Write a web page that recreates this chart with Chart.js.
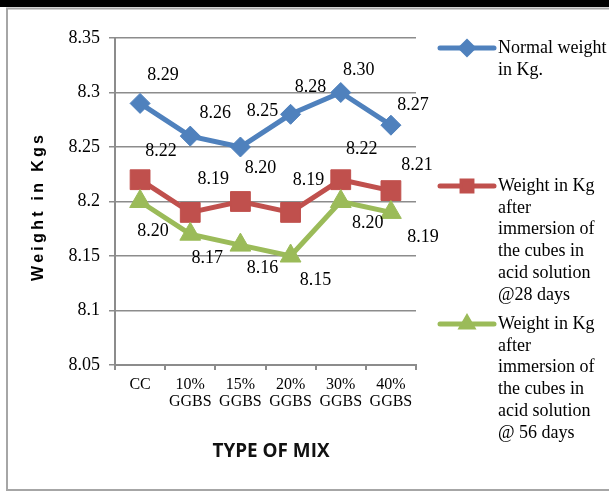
<!DOCTYPE html>
<html>
<head>
<meta charset="utf-8">
<script src="https://cdn.jsdelivr.net/npm/chart.js@4.4.1/dist/chart.umd.min.js"></script>
<style>
  html, body { margin: 0; padding: 0; background: #fff; }
  #wrap { position: relative; width: 609px; height: 493px; }
</style>
</head>
<body>
<div id="wrap"><canvas id="chart" width="609" height="493"></canvas></div>
<script>
// Mix types along the x axis (two-line labels)
const categories = [['CC'], ['10%', 'GGBS'], ['15%', 'GGBS'], ['20%', 'GGBS'], ['30%', 'GGBS'], ['40%', 'GGBS']];

// Cube weights in kg
const normalWeight = [8.29, 8.26, 8.25, 8.28, 8.30, 8.27];
const weight28Days = [8.22, 8.19, 8.20, 8.19, 8.22, 8.21];
const weight56Days = [8.20, 8.17, 8.16, 8.15, 8.20, 8.19];

const seriesNames = [
  'Normal weight in Kg.',
  'Weight in Kg after immersion of the cubes in acid solution @28 days',
  'Weight in Kg after immersion of the cubes in acid solution @ 56 days'
];

// Y axis range and tick step
const yMin = 8.05, yMax = 8.35, yStep = 0.05;

// Value label placement relative to each point (pixels)
const labelShiftNormal = [[23, -28], [25, -23], [22, -36], [20, -27], [18, -22], [22, -20]];
const labelShift28 = [[21, -28], [23, -33], [20, -33], [18, -32], [21, -30], [26, -25]];
const labelShift56 = [[13, 30], [17, 24], [22, 23], [25, 24], [27, 22], [32, 25]];

const BLUE = '#4F81BD', RED = '#C0504D', GREEN = '#9BBB59';
const GRID = '#8C8C8C';
const SERIF = '"Liberation Serif", "Times New Roman", serif';

// Page frame: heavy rule on top, thin grey box around the chart
const framePlugin = {
  id: 'frame',
  beforeDraw(chart) {
    const ctx = chart.ctx;
    ctx.save();
    ctx.fillStyle = '#fff';
    ctx.fillRect(0, 0, chart.width, chart.height);
    ctx.fillStyle = '#000';
    ctx.fillRect(0, 0, chart.width, 7);
    ctx.strokeStyle = '#A6A6A6';
    ctx.lineWidth = 2;
    ctx.beginPath();
    ctx.moveTo(chart.width + 2, 8.5);
    ctx.lineTo(7, 8.5);
    ctx.lineTo(7, 490);
    ctx.lineTo(chart.width + 2, 490);
    ctx.stroke();
    ctx.restore();
  }
};

// Axis titles
const titlesPlugin = {
  id: 'axisTitles',
  afterDraw(chart) {
    const ctx = chart.ctx;
    ctx.save();
    // y title, spaced-out bold sans
    const spacing = 3.3;
    ctx.font = 'bold 16px "Liberation Sans", Arial, sans-serif';
    ctx.letterSpacing = spacing + 'px';
    ctx.fillStyle = '#000';
    const yt = 'Weight in Kgs';
    const w = ctx.measureText(yt).width - spacing;
    ctx.translate(39, 208);
    ctx.rotate(-Math.PI / 2);
    ctx.textAlign = 'left';
    ctx.textBaseline = 'middle';
    ctx.fillText(yt, -w / 2, 0);
    ctx.restore();

    // x title, condensed bold sans
    ctx.save();
    ctx.font = 'bold 20px "Open Sans", "Liberation Sans", sans-serif';
    ctx.fillStyle = '#111';
    const xt = 'TYPE OF MIX';
    const xw = ctx.measureText(xt).width;
    const sx = 117 / xw;
    ctx.translate(271, 451);
    ctx.scale(sx, 1);
    ctx.textAlign = 'center';
    ctx.textBaseline = 'middle';
    ctx.fillText(xt, 0, 0);
    ctx.restore();
  }
};

// Value labels next to every marker
const valueLabelsPlugin = {
  id: 'valueLabels',
  afterDatasetsDraw(chart) {
    const ctx = chart.ctx;
    const shifts = [labelShiftNormal, labelShift28, labelShift56];
    ctx.save();
    ctx.font = '18px ' + SERIF;
    ctx.fillStyle = '#000';
    ctx.textAlign = 'center';
    ctx.textBaseline = 'middle';
    chart.data.datasets.forEach((ds, di) => {
      const meta = chart.getDatasetMeta(di);
      meta.data.forEach((pt, i) => {
        const [dx, dy] = shifts[di][i];
        ctx.fillText(ds.data[i].toFixed(2), pt.x + dx, pt.y + dy);
      });
    });
    ctx.restore();
  }
};

// Wrap a series name into lines no wider than maxW
function wrapText(ctx, text, maxW) {
  const words = text.split(' ');
  const lines = [];
  let cur = '';
  words.forEach(wd => {
    const test = cur ? cur + ' ' + wd : wd;
    if (cur && ctx.measureText(test).width > maxW) {
      lines.push(cur);
      cur = wd;
    } else {
      cur = test;
    }
  });
  if (cur) lines.push(cur);
  return lines;
}

// Legend to the right of the plot, with wrapped entries
const legendPlugin = {
  id: 'sideLegend',
  afterDraw(chart) {
    const ctx = chart.ctx;
    const rowsY = [48, 186, 324];
    const lineH = 21.8;
    ctx.save();
    ctx.font = '18px ' + SERIF;
    chart.data.datasets.forEach((ds, di) => {
      const y = rowsY[di];
      ctx.strokeStyle = ds.borderColor;
      ctx.lineWidth = 5;
      ctx.lineCap = 'round';
      ctx.beginPath();
      ctx.moveTo(440, y);
      ctx.lineTo(494, y);
      ctx.stroke();
      ctx.fillStyle = ds.borderColor;
      Chart.helpers.drawPoint(ctx, {
        pointStyle: ds.pointStyle,
        radius: ds.pointStyle === 'rect' ? 7 : 6,
        borderWidth: 1,
        rotation: 0
      }, 467, y);
      ctx.fill();
      ctx.fillStyle = '#000';
      ctx.textAlign = 'left';
      ctx.textBaseline = 'middle';
      wrapText(ctx, ds.label, 112).forEach((ln, k) => {
        ctx.fillText(ln, 498, y + k * lineH);
      });
    });
    ctx.restore();
  }
};

const series = [
  { data: normalWeight, color: BLUE, style: 'rectRot', r: 10, order: 2 },
  { data: weight28Days, color: RED, style: 'rect', r: 14, order: 1 },
  { data: weight56Days, color: GREEN, style: 'triangle', r: 12, order: 0 }
];

new Chart(document.getElementById('chart'), {
  type: 'line',
  data: {
    labels: categories,
    datasets: series.map((s, i) => ({
      label: seriesNames[i],
      data: s.data,
      borderColor: s.color,
      backgroundColor: s.color,
      pointBackgroundColor: s.color,
      pointBorderColor: s.color,
      pointBorderWidth: 1,
      pointStyle: s.style,
      pointRadius: s.r,
      borderWidth: 5,
      tension: 0,
      fill: false,
      order: s.order
    }))
  },
  options: {
    responsive: false,
    animation: false,
    devicePixelRatio: 1,
    layout: { padding: { left: 0, right: 193, top: 38, bottom: 0 } },
    plugins: {
      legend: { display: false },
      tooltip: { enabled: false }
    },
    scales: {
      x: {
        offset: true,
        grid: { display: true, drawOnChartArea: false, offset: true, tickLength: 5, color: GRID, lineWidth: 2 },
        border: { color: GRID, width: 2 },
        ticks: {
          color: '#000',
          font: { family: SERIF, size: 16, lineHeight: 1.07 },
          padding: 6,
          maxRotation: 0,
          autoSkip: false
        },
        afterFit(scale) { scale.height = 493 - 365; }
      },
      y: {
        min: yMin,
        max: yMax,
        grid: { color: GRID, lineWidth: 1.5, tickLength: 6 },
        border: { color: GRID, width: 2 },
        ticks: {
          stepSize: yStep,
          color: '#000',
          font: { family: SERIF, size: 18 },
          padding: 9,
          callback: v => String(Number(v.toFixed(2)))
        },
        afterFit(scale) { scale.width = 115; }
      }
    }
  },
  plugins: [framePlugin, valueLabelsPlugin, legendPlugin, titlesPlugin]
});
</script>
</body>
</html>
